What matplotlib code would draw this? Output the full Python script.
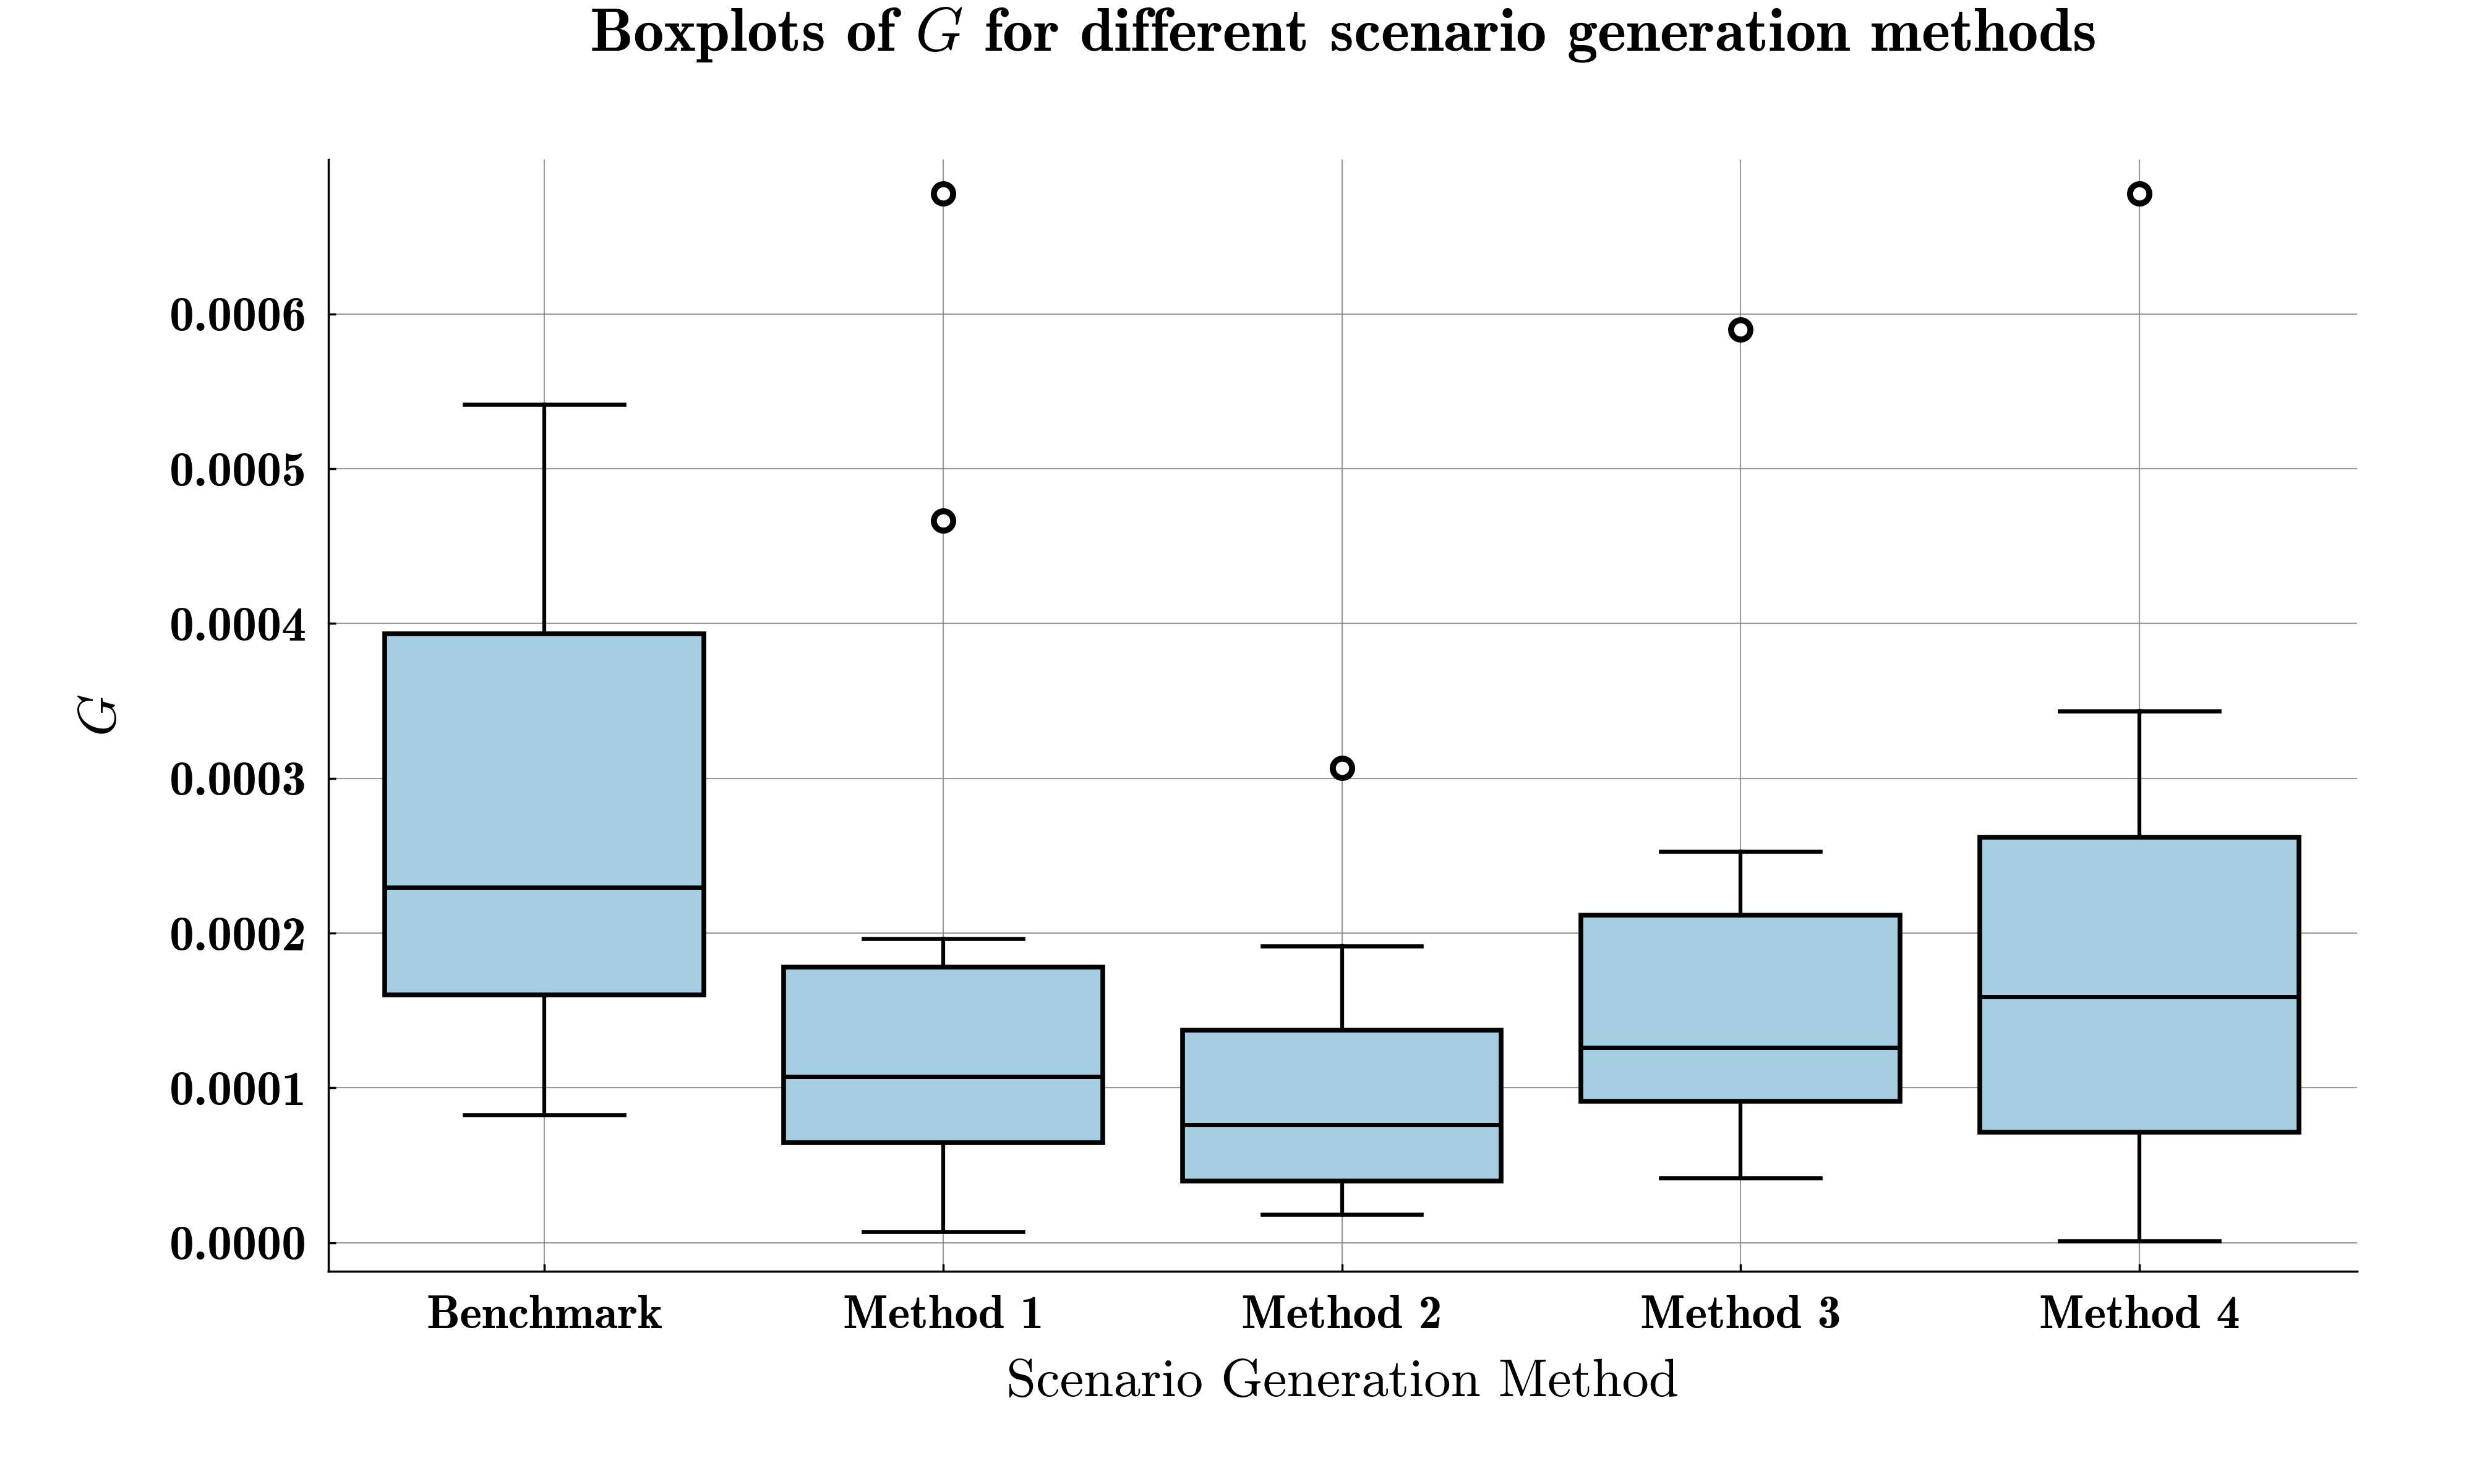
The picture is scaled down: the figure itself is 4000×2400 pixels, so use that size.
import matplotlib
matplotlib.use("Agg")
from matplotlib import pyplot as plt

# values (units of G)
methods = ["Benchmark", "Method 1", "Method 2", "Method 3", "Method 4"]
whisker_low = [0.825e-4, 0.07e-4, 0.183e-4, 0.418e-4, 0.01e-4]
q1 = [1.60e-4, 0.645e-4, 0.397e-4, 0.912e-4, 0.713e-4]
medians = [2.295e-4, 1.075e-4, 0.764e-4, 1.263e-4, 1.589e-4]
q3 = [3.935e-4, 1.78e-4, 1.375e-4, 2.116e-4, 2.618e-4]
whisker_high = [5.415e-4, 1.966e-4, 1.915e-4, 2.526e-4, 3.433e-4]
outliers = [[], [6.78e-4, 4.665e-4], [3.066e-4], [5.898e-4], [6.78e-4]]
yticks = [0.0, 0.0001, 0.0002, 0.0003, 0.0004, 0.0005, 0.0006]

plt.rcParams["mathtext.fontset"] = "cm"

stats = []
for i, name in enumerate(methods):
    stats.append({
        "label": name,
        "whislo": whisker_low[i],
        "q1": q1[i],
        "med": medians[i],
        "q3": q3[i],
        "whishi": whisker_high[i],
        "fliers": outliers[i],
    })

fig = plt.figure(figsize=(16, 9.6), dpi=250)
ax = fig.add_axes([0.1327, 0.1435, 0.82, 0.7492])

ax.bxp(stats, positions=range(1, 6), widths=0.8, patch_artist=True,
       showfliers=True, capwidths=0.4,
       boxprops=dict(facecolor="#a6cee3", edgecolor="black", linewidth=2.2),
       medianprops=dict(color="black", linewidth=2.0),
       whiskerprops=dict(color="black", linewidth=1.8),
       capprops=dict(color="black", linewidth=1.9),
       flierprops=dict(marker="o", markerfacecolor="white", markeredgecolor="black",
                       markersize=9, markeredgewidth=2.8))

ax.set_xlim(0.458, 5.546)
ax.set_ylim(-1.83e-5, 7.0e-4)
ax.set_yticks(yticks)
ax.set_yticklabels(["%.4f" % v for v in yticks], fontfamily="cmb10", fontsize=23)
ax.set_xticks(range(1, 6))
ax.set_xticklabels(methods, fontfamily="cmb10", fontsize=22)

ax.grid(True, color="#808080", linewidth=0.6, alpha=0.8)
ax.set_axisbelow(True)
for s in ["top", "right"]:
    ax.spines[s].set_visible(False)
for s in ["left", "bottom"]:
    ax.spines[s].set_linewidth(1.0)
ax.tick_params(direction="in", length=3.5, width=1.0)
ax.tick_params(axis="y", pad=10)
ax.tick_params(axis="x", pad=11)

ax.set_xlabel("Scenario Generation Method", fontfamily="cmr10", fontsize=25, labelpad=10)
ax.set_ylabel("$G$", fontsize=25, labelpad=20)
fig.text(0.5427, 0.9766, "Boxplots of $G$ for different scenario generation methods",
         ha="center", va="center", fontfamily="cmb10", fontsize=28.5)

fig.savefig("out.png")
